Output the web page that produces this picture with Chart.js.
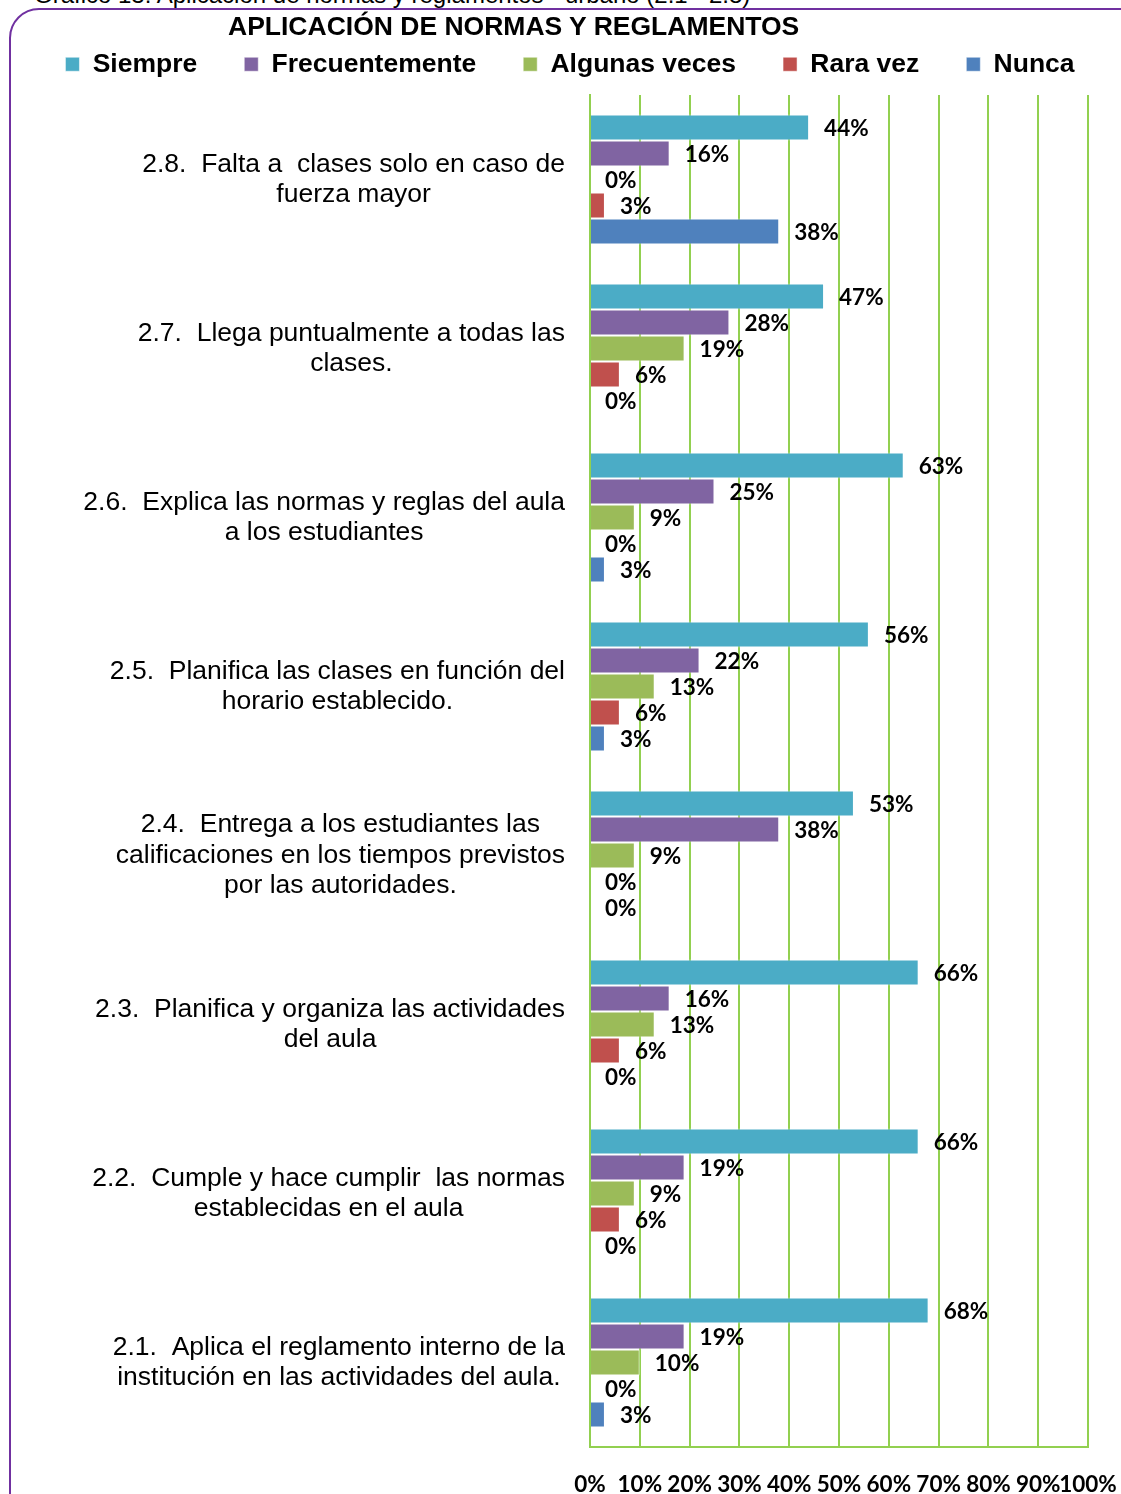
<!DOCTYPE html>
<html>
<head>
<meta charset="utf-8">
<script src="https://cdn.jsdelivr.net/npm/chart.js@4"></script>
<style>
  html, body { margin: 0; padding: 0; background: #fff; overflow: hidden; }
  #wrap { position: relative; width: 1121px; height: 1494px; }
  #frame {
    position: absolute; left: 9px; top: 8px; width: 1150px; height: 1530px;
    border: 2px solid #7030A0; border-radius: 30px; box-sizing: border-box;
  }
  #caption {
    position: absolute; left: 34px; top: -19px; white-space: nowrap;
    font: 24px "Liberation Sans", Arial, sans-serif; color: #000;
  }
  #title {
    position: absolute; left: 228px; top: 11px; white-space: nowrap;
    font: bold 26.5px "Liberation Sans", Arial, sans-serif; color: #000;
  }
  canvas { position: absolute; left: 0; top: 0; }
</style>
</head>
<body>
<div id="wrap">
  <div id="frame"></div>
  <div id="caption">Gráfico 13: Aplicación de normas y reglamentos - urbano (2.1 - 2.8)</div>
  <canvas id="normasChart" width="1121" height="1494"></canvas>
  <div id="title">APLICACIÓN DE NORMAS Y REGLAMENTOS</div>
</div>
<script>
// categories, top to bottom
const categories = [
    ['2.8.  Falta a  clases solo en caso de', 'fuerza mayor'],
    ['2.7.  Llega puntualmente a todas las', 'clases.'],
    ['2.6.  Explica las normas y reglas del aula', 'a los estudiantes'],
    ['2.5.  Planifica las clases en función del', 'horario establecido.'],
    ['2.4.  Entrega a los estudiantes las', 'calificaciones en los tiempos previstos', 'por las autoridades.'],
    ['2.3.  Planifica y organiza las actividades', 'del aula'],
    ['2.2.  Cumple y hace cumplir  las normas', 'establecidas en el aula'],
    ['2.1.  Aplica el reglamento interno de la', 'institución en las actividades del aula.']
];

const siempre = [44, 47, 63, 56, 53, 66, 66, 68];
const frecuentemente = [16, 28, 25, 22, 38, 16, 19, 19];
const algunasVeces = [0, 19, 9, 13, 9, 13, 9, 10];
const raraVez = [3, 6, 0, 6, 0, 6, 6, 0];
const nunca = [38, 0, 3, 3, 0, 0, 0, 3];

const xTicks = [0, 10, 20, 30, 40, 50, 60, 70, 80, 90, 100];

const green = '#92D050';
const labelFont = '"Lato", "Open Sans", sans-serif';
const textFont = '"Liberation Sans", Arial, sans-serif';

// setup
const data = {
    labels: categories,
    datasets: [
        { label: 'Siempre', data: siempre, backgroundColor: '#4BACC6' },
        { label: 'Frecuentemente', data: frecuentemente, backgroundColor: '#8064A2' },
        { label: 'Algunas veces', data: algunasVeces, backgroundColor: '#9BBB59' },
        { label: 'Rara vez', data: raraVez, backgroundColor: '#C0504D' },
        { label: 'Nunca', data: nunca, backgroundColor: '#4F81BD' }
    ]
};
data.datasets.forEach(ds => {
    ds.borderColor = 'rgba(255,255,255,0.5)';
    ds.borderWidth = 1;
    ds.categoryPercentage = 0.77;
    ds.barPercentage = 1;
});

// keep the legend on one row and squeeze its box so the plot starts right under it
const legendHeight = {
    id: 'legendHeight',
    beforeInit(chart) {
        const fit = chart.legend.fit;
        chart.legend.fit = function () {
            const mw = this.maxWidth;
            this.maxWidth = 2000;
            fit.bind(chart.legend)();
            this.maxWidth = mw;
            this.width = mw;
            this.height = 91;
        };
    },
    beforeDraw(chart) {
        // widen the legend box (same centre) so the last item does not wrap
        chart.legend.left = -80;
        chart.legend.right = 1220;
        chart.legend.width = 1300;
    }
};

// value labels after each bar
const valueLabels = {
    id: 'valueLabels',
    afterDatasetsDraw(chart) {
        const { ctx } = chart;
        ctx.save();
        ctx.font = 'bold 22.5px ' + labelFont;
        ctx.fillStyle = '#000';
        ctx.textAlign = 'left';
        ctx.textBaseline = 'middle';
        chart.data.datasets.forEach((ds, i) => {
            chart.getDatasetMeta(i).data.forEach((bar, j) => {
                ctx.fillText(ds.data[j] + '%', bar.x + 15, bar.y + 1);
            });
        });
        ctx.restore();
    }
};

// category labels: block right aligned, lines centred inside the block
const categoryLabels = {
    id: 'categoryLabels',
    afterDraw(chart) {
        const { ctx } = chart;
        const yScale = chart.scales.y;
        const right = yScale.right - 25;
        const lineH = 30.5;
        ctx.save();
        ctx.font = '26.5px ' + textFont;
        ctx.fillStyle = '#000';
        ctx.textAlign = 'center';
        ctx.textBaseline = 'middle';
        categories.forEach((lines, i) => {
            const w = Math.max(...lines.map(l => ctx.measureText(l).width));
            const cx = right - w / 2;
            const cy = yScale.getPixelForValue(i);
            lines.forEach((l, k) => {
                ctx.fillText(l, cx, cy + (k - (lines.length - 1) / 2) * lineH);
            });
        });
        ctx.restore();
    }
};

// config
const config = {
    type: 'bar',
    data: data,
    options: {
        indexAxis: 'y',
        responsive: false,
        animation: false,
        layout: { padding: { top: 4, left: 52, right: 33, bottom: 0 } },
        scales: {
            x: {
                min: 0,
                max: 100,
                afterBuildTicks: scale => { scale.ticks = xTicks.map(v => ({ value: v })); },
                afterFit: scale => { scale.height = 47; },
                ticks: {
                    callback: v => v + '%',
                    color: '#000',
                    font: { family: labelFont, size: 22.5, weight: 'bold' },
                    padding: 2,
                    maxRotation: 0,
                    autoSkip: false
                },
                grid: { color: green, lineWidth: 2, drawTicks: true, tickLength: 22, tickColor: 'rgba(0,0,0,0)' },
                border: { color: green, width: 2 }
            },
            y: {
                ticks: { display: false },
                grid: { display: false, drawTicks: false },
                border: { color: green, width: 2 },
                afterFit: scale => { scale.width = 538; }
            }
        },
        plugins: {
            title: { display: false },
            tooltip: { enabled: false },
            legend: {
                position: 'top',
                labels: {
                    boxWidth: 14,
                    boxHeight: 14,
                    padding: 47,
                    color: '#000',
                    font: { family: textFont, size: 26.5, weight: 'bold' }
                }
            }
        }
    },
    plugins: [legendHeight, valueLabels, categoryLabels]
};

// render init block
const myChart = new Chart(
    document.getElementById('normasChart'),
    config
);
</script>
</body>
</html>
